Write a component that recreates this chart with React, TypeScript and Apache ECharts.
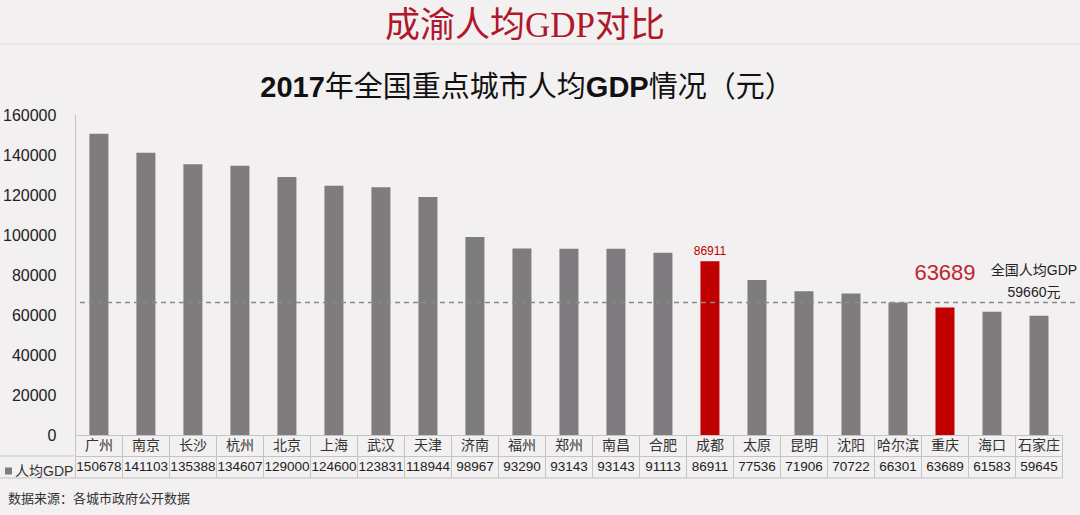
import React, { useEffect, useRef } from "react";
import * as echarts from "echarts";

const cities = ["广州","南京","长沙","杭州","北京","上海","武汉","天津","济南","福州","郑州","南昌","合肥","成都","太原","昆明","沈阳","哈尔滨","重庆","海口","石家庄"];
const gdpValues = [150678,141103,135388,134607,129000,124600,123831,118944,98967,93290,93143,93143,91113,86911,77536,71906,70722,66301,63689,61583,59645];
const highlightCities = ["成都","重庆"];
const bigLabelCity = "重庆";
const seriesName = "人均GDP";
const yMin = 0;
const yMax = 160000;
const yInterval = 20000;
const nationalAvgValue = 59660;
const nationalLineDrawnAt = 66200;
const mainTitle = "成渝人均GDP对比";
const sourceNote = "数据来源：各城市政府公开数据";

const GRAY = "#7f7c7f";
const RED = "#c00000";
const BORDER = "#c4c4c4";
const CJK = "'Liberation Sans', 'Noto Sans CJK SC', sans-serif";

export default function App() {
  const ref = useRef<HTMLDivElement>(null);
  useEffect(() => {
    if (!ref.current) return;
    const chart = echarts.init(ref.current, undefined, { renderer: "svg" });
    const barData = gdpValues.map((v, i) => {
      const c = cities[i];
      if (!highlightCities.includes(c)) return v;
      const big = c === bigLabelCity;
      return {
        value: v,
        itemStyle: { color: RED },
        label: {
          show: true,
          position: "top",
          distance: big ? 24 : 4,
          fontSize: big ? 22 : 12,
          color: big ? "#c0262f" : RED,
          fontFamily: CJK,
        },
      };
    });
    const staticGraphics = [
      { type: "line", shape: { x1: 0, y1: 44, x2: 1080, y2: 44 }, style: { stroke: "#e4e0e0", lineWidth: 1 }, silent: true },
      { type: "line", shape: { x1: 0, y1: 456, x2: 74, y2: 456 }, style: { stroke: BORDER, lineWidth: 1 } },
      { type: "line", shape: { x1: 0, y1: 478, x2: 1062.5, y2: 478 }, style: { stroke: BORDER, lineWidth: 1 } },
      {
        type: "text",
        left: 8,
        top: 492,
        style: { text: sourceNote, fontSize: 13, fill: "#333", fontFamily: CJK },
      },
    ];
    chart.setOption({
      animation: false,
      backgroundColor: "#f2f0f0",
      textStyle: { fontFamily: CJK },
      title: [
        {
          text: mainTitle,
          left: 520,
          textAlign: "center",
          top: 3,
          textStyle: {
            fontFamily: "'Liberation Serif', 'Noto Sans CJK SC', serif",
            fontSize: 35,
            fontWeight: "normal",
            color: "#b0172b",
          },
        },
        {
          text: "{b|2017}年全国重点城市人均{b|GDP}情况（元）",
          left: 522,
          textAlign: "center",
          top: 67,
          textStyle: {
            fontFamily: CJK,
            fontSize: 29,
            fontWeight: "normal",
            color: "#111",
            rich: {
              b: { fontSize: 29, fontWeight: "bold", color: "#111", fontFamily: CJK },
            },
          },
        },
      ],
      legend: {
        left: 0,
        top: 459,
        icon: "rect",
        itemWidth: 7,
        itemHeight: 7,
        itemGap: 3,
        textStyle: { fontSize: 14, color: "#333", fontFamily: CJK, padding: [0, 0, 0, -2] },
        data: [seriesName],
      },
      grid: { left: 74, right: 17.5, top: 115, bottom: 80, containLabel: false },
      xAxis: [
        {
          type: "category",
          data: cities,
          position: "bottom",
          axisLine: { show: true, lineStyle: { color: BORDER, width: 1 } },
          axisTick: { show: true, interval: 0, length: 43, lineStyle: { color: BORDER } },
          axisLabel: { interval: 0, margin: 3, fontSize: 14, color: "#333", fontFamily: CJK },
        },
        {
          type: "category",
          data: gdpValues.map((v) => String(v)),
          position: "bottom",
          offset: 21,
          axisLine: { show: true, lineStyle: { color: BORDER, width: 1 } },
          axisTick: { show: false },
          axisLabel: { interval: 0, margin: 4, fontSize: 13.5, color: "#222", fontFamily: CJK },
        },
      ],
      yAxis: {
        type: "value",
        min: yMin,
        max: yMax,
        interval: yInterval,
        axisLine: { show: true, lineStyle: { color: BORDER } },
        axisTick: { show: false },
        splitLine: { show: false },
        axisLabel: {
          margin: 19,
          fontSize: 16,
          color: "#222",
          fontFamily: CJK,
          formatter: (v: number) => String(v),
        },
      },
      series: [
        {
          name: seriesName,
          type: "bar",
          xAxisIndex: 0,
          barWidth: 19,
          itemStyle: { color: GRAY },
          data: barData,
        },
      ],
      graphic: staticGraphics,
    });
    const yLine = chart.convertToPixel({ yAxisIndex: 0 }, nationalLineDrawnAt) as number;
    chart.setOption({
      graphic: [
        ...staticGraphics,
        {
          type: "line",
          z: 10,
          shape: { x1: 80, y1: yLine, x2: 1078, y2: yLine },
          style: { stroke: "#8a8a8a", lineWidth: 1.5, lineDash: [5, 4] },
        },
        {
          type: "text",
          x: 1034,
          y: yLine - 40,
          style: { text: "全国人均GDP", fontSize: 14, fill: "#222", fontFamily: CJK, align: "center" },
        },
        {
          type: "text",
          x: 1034,
          y: yLine - 18,
          style: { text: `${nationalAvgValue}元`, fontSize: 14, fill: "#222", fontFamily: CJK, align: "center" },
        },
      ],
    }, { replaceMerge: ["graphic"] });
    return () => chart.dispose();
  }, []);
  return (
    <div
      ref={ref}
      style={{ position: "fixed", left: 0, top: 0, width: 1080, height: 515 }}
    />
  );
}
